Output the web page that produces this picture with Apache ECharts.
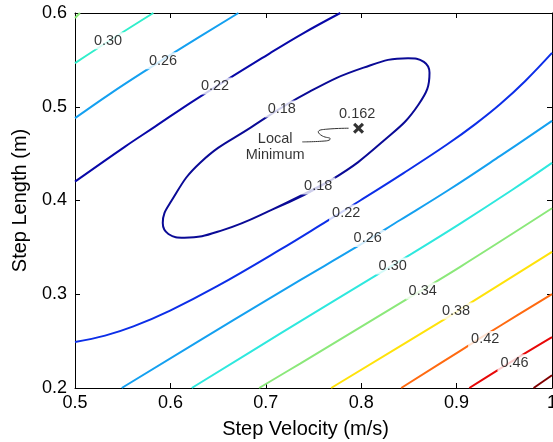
<!DOCTYPE html>
<html>
<head>
<meta charset="utf-8">
<script src="https://cdn.jsdelivr.net/npm/echarts@6/dist/echarts.min.js"></script>
<style>
    html, body { margin: 0; padding: 0; background: #fff; }
    #chart { width: 553px; height: 442px; }
</style>
</head>
<body>
<div id="chart"></div>
<script>
    // 等高线数据 [速度, 步长]
    // 闭合的 0.18 等高线，末尾多重复一个点让接缝处也平滑
    var ellipse018 = [[0.7692,0.4222],[0.7066,0.3903],[0.6549,0.3684],[0.6146,0.3604],[0.5979,0.3643],[0.5920,0.3759],[0.6008,0.3991],[0.6315,0.4406],[0.6849,0.4783],[0.7449,0.5156],[0.8025,0.5417],[0.8491,0.5518],[0.8657,0.5478],[0.8716,0.5363],[0.8603,0.5026],[0.8232,0.4634],[0.7692,0.4222],[0.7066,0.3903]];
    var upper022 = [[0.5,0.4201],[0.5525,0.4575],[0.5839,0.4788],[0.6259,0.5074],[0.7046,0.5573],[0.7396,0.5786],[0.7781,0.6]];
    var upper026 = [[0.5,0.4878],[0.5367,0.5138],[0.5752,0.5394],[0.6101,0.5618],[0.6713,0.6]];
    var upper030 = [[0.5,0.5466],[0.5409,0.5736],[0.5821,0.6]];
    var corner034 = [[0.5,0.5947],[0.5052,0.6]];
    var lower022 = [[0.5,0.2491],[0.5315,0.2559],[0.5612,0.2657],[0.5997,0.2826],[0.6486,0.3083],[0.7150,0.3475],[0.7640,0.3780],[0.7990,0.4000],[0.8444,0.4292],[0.8899,0.4597],[0.9196,0.4815],[0.9458,0.5029],[0.9720,0.5275],[1.0,0.5574]];
    var lower026 = [[0.5490,0.2],[0.6660,0.2723],[0.7360,0.3151],[0.7902,0.3475],[0.8409,0.3792],[0.8916,0.4112],[0.9458,0.4476],[1.0,0.4849]];
    var lower030 = [[0.6224,0.2],[0.7150,0.2579],[0.7727,0.2937],[0.8514,0.3423],[0.9038,0.3754],[0.9581,0.4112],[1.0,0.4401]];
    var line034 = [[0.6930,0.2],[0.7360,0.2261],[0.8461,0.2937],[0.9038,0.3293],[1.0,0.3917]];
    var line038 = [[0.7685,0.2],[0.8828,0.2705],[0.9175,0.2926],[1.0,0.3453]];
    var line042 = [[0.8419,0.2],[0.9038,0.2397],[0.9458,0.2664],[1.0,0.3001]];
    var line046 = [[0.9133,0.2],[0.9563,0.2274],[1.0,0.2542]];
    var line050 = [[0.9807,0.2],[1.0,0.2136]];

    // 等高线标注
    var labelTexts = ['0.30','0.26','0.22','0.18','0.18','0.22','0.26','0.30','0.34','0.38','0.42','0.46'];
    var labelPos = [[0.5346,0.5704],[0.5923,0.5490],[0.6468,0.5222],[0.7168,0.4975],[0.7549,0.4155],[0.7843,0.3866],[0.8068,0.3596],[0.8330,0.3302],[0.8645,0.3035],[0.8994,0.2822],[0.9300,0.2518],[0.9607,0.2269]];

    // 局部最小值
    var minPoint = [0.7972,0.4771];
    var minValue = '0.162';
    var minValuePos = [0.7958,0.4924];
    var minNote = 'Local\nMinimum';
    var minNotePos = [0.7098,0.4574];
    var pointerLine = [[0.7868,0.4771],[0.7641,0.4761],[0.7550,0.4732],[0.7592,0.4689],[0.7676,0.4657],[0.7634,0.4636],[0.7382,0.4625]];

    var xTicks = [0.5,0.6,0.7,0.8,0.9,1];
    var yTicks = [0.2,0.3,0.4,0.5,0.6];

    var font = "'Liberation Sans', Arial, Helvetica, sans-serif";
    var myChart = echarts.init(document.getElementById('chart'));

    function contour(data, color, smooth) {
        return {
            type: 'line',
            data: data,
            symbol: 'none',
            smooth: smooth || 0.4,
            silent: true,
            z: 2,
            lineStyle: { color: color, width: 2 }
        };
    }

    var labelData = labelTexts.map(function (t, i) {
        return { name: t, value: labelPos[i] };
    });

    var axisBase = {
        type: 'value',
        axisLine: { show: true, lineStyle: { color: '#000', width: 1 } },
        axisTick: { show: true, inside: true, length: 5, lineStyle: { color: '#000' } },
        splitLine: { show: false }
    };

    var option = {
        animation: false,
        textStyle: { fontFamily: font },
        grid: { left: 75, right: 1, top: 13, bottom: 54, outerBoundsMode: 'none', containLabel: false },
        xAxis: [
            Object.assign({}, axisBase, {
                min: xTicks[0], max: xTicks[xTicks.length - 1], interval: 0.1,
                position: 'bottom',
                name: 'Step Velocity (m/s)', nameLocation: 'middle', nameGap: 31,
                nameTextStyle: { fontSize: 20, color: '#000', fontFamily: font, padding: [0, 16, 0, 0] },
                axisLabel: {
                    color: '#000', fontSize: 18, margin: 6, fontFamily: font,
                    formatter: function (v) { return v === 1 ? '1' : v.toFixed(1); }
                }
            }),
            Object.assign({}, axisBase, {
                min: xTicks[0], max: xTicks[xTicks.length - 1], interval: 0.1,
                position: 'top',
                axisLabel: { show: false }
            })
        ],
        yAxis: [
            Object.assign({}, axisBase, {
                min: yTicks[0], max: yTicks[yTicks.length - 1], interval: 0.1,
                position: 'left',
                name: 'Step Length (m)', nameLocation: 'middle', nameGap: 45,
                nameTextStyle: { fontSize: 20, color: '#000', fontFamily: font },
                axisLabel: {
                    color: '#000', fontSize: 18, margin: 8, fontFamily: font,
                    formatter: function (v) { return v.toFixed(1); }
                }
            }),
            Object.assign({}, axisBase, {
                min: yTicks[0], max: yTicks[yTicks.length - 1], interval: 0.1,
                position: 'right',
                axisLabel: { show: false }
            })
        ],
        series: [
            contour(ellipse018, '#0a0a96', 0.45),
            contour(upper022, '#0808a8'),
            contour(upper026, '#14a0f0'),
            contour(upper030, '#30eecb'),
            contour(corner034, '#8be87a'),
            contour(lower022, '#0c2ee8'),
            contour(lower026, '#14a0f0'),
            contour(lower030, '#2ee8de'),
            contour(line034, '#8be87a'),
            contour(line038, '#ffe20a'),
            contour(line042, '#ff6a10'),
            contour(line046, '#e80808'),
            contour(line050, '#800000'),
            {
                type: 'line',
                data: pointerLine,
                symbol: 'none',
                smooth: 0.5,
                silent: true,
                z: 3,
                lineStyle: { color: '#333', width: 1 }
            },
            {
                type: 'scatter',
                data: labelData,
                symbolSize: 0,
                silent: true,
                z: 5,
                label: {
                    show: true, position: 'inside', formatter: '{b}',
                    color: '#000', fontSize: 14.5, fontFamily: font,
                    backgroundColor: '#fff', padding: [1, 3]
                }
            },
            {
                type: 'scatter',
                data: [{ name: minValue, value: minValuePos }, { name: minNote, value: minNotePos }],
                symbolSize: 0,
                silent: true,
                z: 5,
                label: {
                    show: true, position: 'inside', formatter: '{b}',
                    color: '#000', fontSize: 14.5, lineHeight: 16, fontFamily: font, align: 'center'
                }
            },
            {
                type: 'scatter',
                data: [minPoint],
                symbol: 'path://M0,2 L2,0 L5,3 L8,0 L10,2 L7,5 L10,8 L8,10 L5,7 L2,10 L0,8 L3,5 Z',
                symbolSize: 11,
                silent: true,
                z: 6,
                itemStyle: { color: '#000' }
            }
        ]
    };
    myChart.setOption(option);
</script>
</body>
</html>
